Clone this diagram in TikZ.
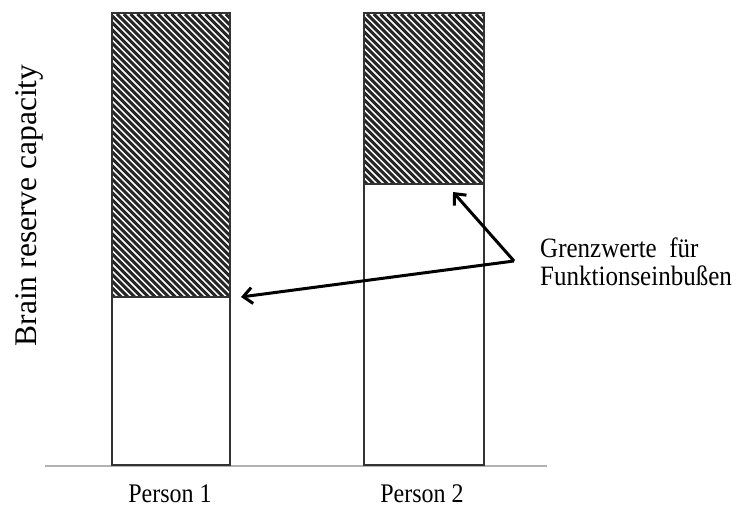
\documentclass[tikz,border=0pt]{standalone}
\usepackage{fontspec}
\setmainfont{Liberation Serif}
\usetikzlibrary{arrows.meta}
\begin{document}
\begin{tikzpicture}[x=1pt,y=1pt,
  barbox/.style={draw=black!80,line width=2pt},
  hatchline/.style={line width=3pt,black!85},
  pointer/.style={line width=3pt,black,-{Straight Barb[length=9pt,width=16pt,line width=3pt]}},
  lbl/.style={font=\fontsize{24}{28}\selectfont,inner sep=0pt}]
\useasboundingbox (0,0) rectangle (736,507);
% hatching bar 1
\begin{scope}
  \clip (111,210) rectangle (229,493);
  \foreach \i in {-300,-293.2,...,240} \draw[hatchline] (111+\i,493) -- ++(300,-300);
\end{scope}
% hatching bar 2
\begin{scope}
  \clip (363,323) rectangle (483,493);
  \foreach \i in {-200,-193.2,...,130} \draw[hatchline] (363+\i,493) -- ++(200,-200);
\end{scope}
% baseline
\draw[black!30,line width=2pt] (45,41) -- (547,41);
% bars
\node[barbox,minimum width=118pt,minimum height=452pt,inner sep=0pt,anchor=south west] (bar1) at (111,41) {};
\node[barbox,minimum width=120pt,minimum height=452pt,inner sep=0pt,anchor=south west] (bar2) at (363,41) {};
\draw[barbox] (111,210) -- (229,210);
\draw[barbox] (363,323) -- (483,323);
% labels
\node[lbl,anchor=base] (p1) at (170,5) {\scalebox{1}[1.12]{Person 1}};
\node[lbl,anchor=base] (p2) at (422,5) {\scalebox{1}[1.12]{Person 2}};
\node[font=\fontsize{31.5}{34}\selectfont,rotate=90,anchor=base,inner sep=0pt] (ylab) at (36,301.5) {Brain reserve capacity};
\node[font=\fontsize{25}{25}\selectfont,anchor=base west,inner sep=0pt] (txt) at (540,250)
  {\scalebox{1}[1.12]{\begin{tabular}[t]{@{}l@{}}Grenzwerte\ \ für\\Funktionseinbußen\end{tabular}}};
% arrows
\coordinate (v) at (514,246);
\coordinate (t1) at (241,210);
\coordinate (t2) at (453,315);
\draw[pointer,line join=round] (v) -- (t1);
\draw[pointer] (v) -- (t2);
\end{tikzpicture}
\end{document}
